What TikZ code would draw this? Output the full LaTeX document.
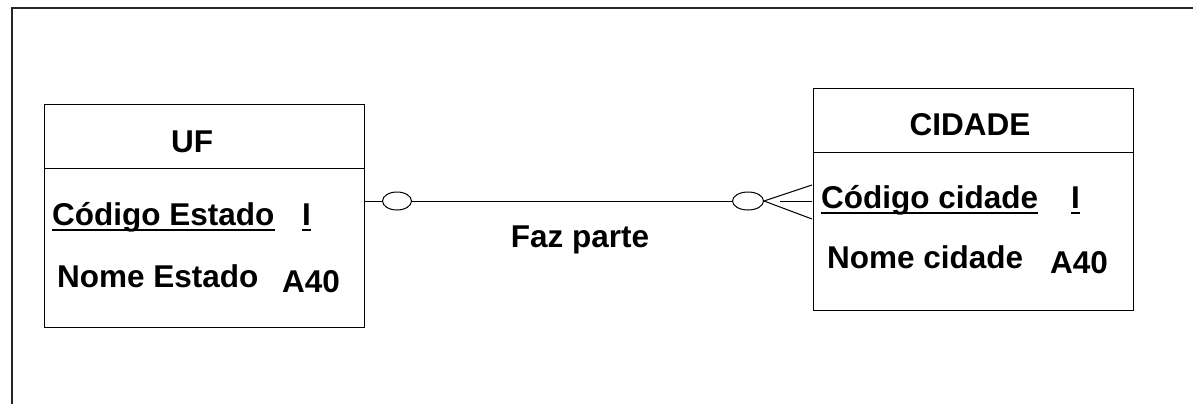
\documentclass[tikz,border=0pt]{standalone}
\usepackage{fontspec}
\setmainfont{Liberation Sans}
\usetikzlibrary{shapes.geometric}
\begin{document}
\begin{tikzpicture}[x=1pt,y=-1pt,
  frame/.style={line width=2.2pt, black!85},
  entbox/.style={draw, rectangle, line width=1pt, inner sep=0pt, minimum width=320pt},
  card/.style={draw, ellipse, line width=1pt, inner sep=0pt, minimum height=18pt},
  link/.style={line width=1pt},
  txt/.style={font=\fontsize{31.5}{36}\selectfont\bfseries, inner sep=0pt},
  lbl/.style={txt, anchor=base west},
  ttl/.style={txt, anchor=base},
  uline/.style={line width=2.5pt, line cap=butt}]
\useasboundingbox (0,0) rectangle (1193,404);

% page frame
\draw[frame] (12,404) -- (12,8) -- (1193,8);

% entity UF
\node[entbox, minimum height=223pt] (uf) at (204,215.5) {};
\draw[link] (44,168) -- (364,168);
\node[ttl] (uft) at (192,152) {UF};
\node[lbl] (ufk) at (52,225) {Código Estado};
\node[lbl] (ufkt) at (302,225) {I};
\node[lbl] (ufn) at (57,287) {Nome Estado};
\node[lbl] (ufnt) at (282,292) {A40};
\draw[uline] ([yshift=-5pt]ufk.base west) -- ([yshift=-5pt]ufk.base east);
\draw[uline] ([yshift=-5pt]ufkt.base west) -- ([yshift=-5pt]ufkt.base east);

% entity CIDADE
\node[entbox, minimum height=222pt] (cid) at (973,199) {};
\draw[link] (813,152) -- (1133,152);
\node[ttl] (cidt) at (970,135) {CIDADE};
\node[lbl] (cidk) at (821,208) {Código cidade};
\node[lbl] (cidkt) at (1071,208) {I};
\node[lbl] (cidn) at (827,268) {Nome cidade};
\node[lbl] (cidnt) at (1050,273) {A40};
\draw[uline] ([yshift=-5pt]cidk.base west) -- ([yshift=-5pt]cidk.base east);
\draw[uline] ([yshift=-5pt]cidkt.base west) -- ([yshift=-5pt]cidkt.base east);

% relationship "Faz parte"
\node[card, minimum width=29pt] (cl) at (397,201) {};
\node[card, minimum width=31pt] (cr) at (748,201) {};
\coordinate (fu) at (812,185);
\coordinate (fm) at (812,201);
\coordinate (fd) at (812,219);
\coordinate (fs) at (780,201);
\draw[link] (cl.west -| uf.east) -- (cl.west);
\draw[link] (cl.east) -- (cr.west);
\draw[link] (cr.east) -- (fu);
\draw[link] (cr.east) -- (fd);
\draw[link] (fs) -- (fm);
\node[ttl] (rel) at (580,247) {Faz parte};
\end{tikzpicture}
\end{document}
